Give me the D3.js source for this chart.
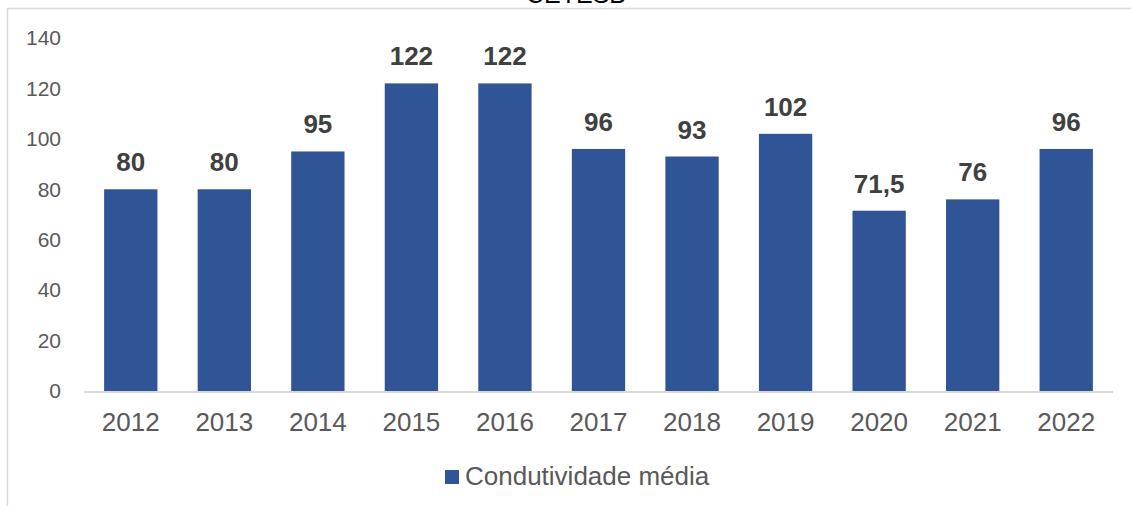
<!DOCTYPE html>
<html>
<head>
    <meta charset="utf-8" />
    <title>Condutividade média</title>
    <script src="https://d3js.org/d3.v7.min.js"></script>
    <style>
        body { margin: 0; background: #fff; }
        text { font-family: Arial, "Liberation Sans", sans-serif; }
    </style>
</head>
<body>
    <script type="text/javascript">
        var years = ['2012', '2013', '2014', '2015', '2016', '2017', '2018', '2019', '2020', '2021', '2022'];
        var values = [80, 80, 95, 122, 122, 96, 93, 102, 71.5, 76, 96];
        var yTicks = [0, 20, 40, 60, 80, 100, 120, 140];
        var seriesName = 'Condutividade média';
        var title = 'CETESB';

        var width = 1131;
        var height = 506;
        var barColor = '#2f5597';

        var svg = d3.select('body')
            .append('svg')
            .attr('width', width)
            .attr('height', height);

        // outer frame (only top and left edges show)
        svg.append('path')
            .attr('d', 'M7.5,' + height + 'V8.5H' + width)
            .attr('fill', 'none')
            .attr('stroke', '#d9d9d9')
            .attr('stroke-width', 1.5);

        svg.append('text')
            .attr('x', 576)
            .attr('y', 3)
            .attr('text-anchor', 'middle')
            .style('font-size', '25px')
            .attr('fill', '#000')
            .text(title);

        var x = d3.scaleBand()
            .domain(years)
            .range([84, 1113])
            .paddingInner(0.43)
            .paddingOuter(0.215);

        var y = d3.scaleLinear()
            .domain([0, 140])
            .range([391, 38]);

        // y axis labels
        svg.selectAll('.ytick')
            .data(yTicks)
            .enter()
            .append('text')
            .attr('class', 'ytick')
            .attr('x', 61)
            .attr('y', function (d) { return y(d); })
            .attr('dy', '0.35em')
            .attr('text-anchor', 'end')
            .style('font-size', '21px')
            .attr('fill', '#595959')
            .text(function (d) { return d; });

        svg.selectAll('.bar')
            .data(values)
            .enter()
            .append('rect')
            .attr('class', 'bar')
            .attr('x', function (d, i) { return x(years[i]); })
            .attr('y', function (d) { return y(d); })
            .attr('width', x.bandwidth())
            .attr('height', function (d) { return y(0) - y(d); })
            .attr('fill', barColor);

        // baseline
        svg.append('line')
            .attr('x1', 84)
            .attr('x2', 1113)
            .attr('y1', y(0) + 1)
            .attr('y2', y(0) + 1)
            .attr('stroke', '#d9d9d9')
            .attr('stroke-width', 2);

        svg.selectAll('.vlabel')
            .data(values)
            .enter()
            .append('text')
            .attr('class', 'vlabel')
            .attr('x', function (d, i) { return x(years[i]) + x.bandwidth() / 2; })
            .attr('y', function (d) { return y(d) - 18; })
            .attr('text-anchor', 'middle')
            .style('font-size', '26px')
            .style('font-weight', 'bold')
            .attr('fill', '#404040')
            .text(function (d) { return String(d).replace('.', ','); });

        svg.selectAll('.xtick')
            .data(years)
            .enter()
            .append('text')
            .attr('class', 'xtick')
            .attr('x', function (d) { return x(d) + x.bandwidth() / 2; })
            .attr('y', 431)
            .attr('text-anchor', 'middle')
            .style('font-size', '26px')
            .attr('fill', '#595959')
            .text(function (d) { return d; });

        // legend
        var legend = svg.append('g').attr('transform', 'translate(445,470)');
        legend.append('rect')
            .attr('width', 14)
            .attr('height', 14)
            .attr('fill', barColor);
        legend.append('text')
            .attr('x', 20)
            .attr('y', 15)
            .style('font-size', '26px')
            .attr('fill', '#595959')
            .text(seriesName);
    </script>
</body>
</html>
